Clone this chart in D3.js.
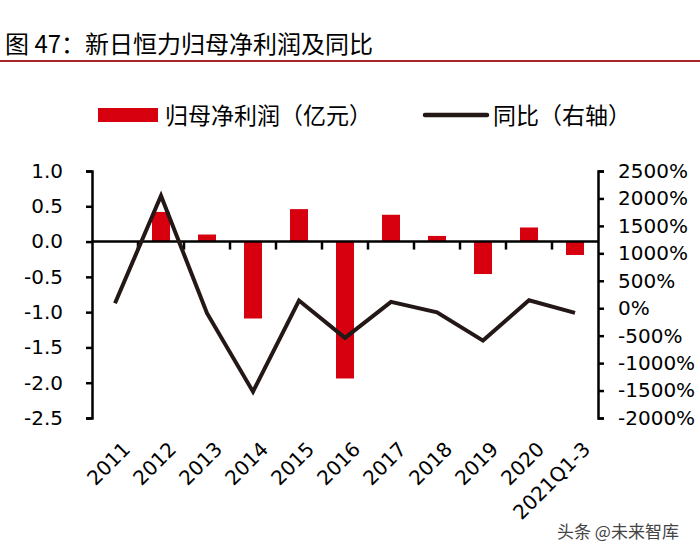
<!DOCTYPE html>
<html><head><meta charset="utf-8">
<script src="https://cdn.jsdelivr.net/npm/d3@7/dist/d3.min.js"></script>
<style>
body{margin:0;background:#fff;}
svg{display:block;}
</style></head>
<body>
<svg id="c" width="700" height="554"></svg>
<script>
const categories = ["2011","2012","2013","2014","2015","2016","2017","2018","2019","2020","2021Q1-3"];
const profit = [0, 0.42, 0.10, -1.09, 0.46, -1.94, 0.38, 0.08, -0.46, 0.20, -0.19];
const yoy = [90, 2050, -90, -1520, 140, -540, 115, -75, -590, 145, -85];
const leftTicks = [1.0, 0.5, 0.0, -0.5, -1.0, -1.5, -2.0, -2.5];
const rightTicks = [2500, 2000, 1500, 1000, 500, 0, -500, -1000, -1500, -2000];
const title = "图 47：新日恒力归母净利润及同比";
const legendLabels = ["归母净利润（亿元）", "同比（右轴）"];
const watermark = "头条 @未来智库";

(function(){
const svg = d3.select("#c");
const cjk = "'Noto Sans CJK SC', 'Noto Sans', sans-serif";
const num = "'DejaVu Sans', 'Liberation Sans', sans-serif";
const RED = "#d7000f", LINE = "#231815";

const pL = 92, pR = 598, pT = 171, pB = 418;
const x = d3.scaleBand().domain(categories).range([pL, pR]);
const yL = d3.scaleLinear().domain([-2.5, 1.0]).range([pB, pT]);
const yR = d3.scaleLinear().domain([-2000, 2500]).range([pB, pT]);

// title
svg.append("text").attr("x", 5).attr("y", 42).attr("dominant-baseline", "central")
  .attr("font-family", cjk).attr("font-size", 24).attr("fill", "#000").text(title);
svg.append("line").attr("x1", 0).attr("x2", 700).attr("y1", 61).attr("y2", 61)
  .attr("stroke", "#a8262a").attr("stroke-width", 2);

// legend
svg.append("rect").attr("x", 98).attr("y", 108).attr("width", 60).attr("height", 14).attr("fill", RED);
svg.append("text").attr("x", 165).attr("y", 114).attr("dominant-baseline", "central")
  .attr("font-family", cjk).attr("font-size", 23).attr("fill", "#000").text(legendLabels[0]);
svg.append("line").attr("x1", 425).attr("x2", 487).attr("y1", 115).attr("y2", 115)
  .attr("stroke", LINE).attr("stroke-width", 4.5).attr("stroke-linecap", "round");
svg.append("text").attr("x", 493).attr("y", 114).attr("dominant-baseline", "central")
  .attr("font-family", cjk).attr("font-size", 23).attr("fill", "#000").text(legendLabels[1]);

// bars
const bw = 18;
svg.append("g").selectAll("rect").data(categories).join("rect")
  .attr("x", d => x(d) + x.bandwidth()/2 - bw/2)
  .attr("width", bw)
  .attr("y", (d,i) => yL(Math.max(0, profit[i])))
  .attr("height", (d,i) => Math.abs(yL(profit[i]) - yL(0)))
  .attr("fill", RED);

// left axis
const gL = svg.append("g").attr("transform", `translate(${pL},0)`)
  .call(d3.axisLeft(yL).tickValues(leftTicks).tickFormat(d => d3.format(".1f")(d).replace("−","-")).tickSize(6).tickPadding(23));
gL.select(".domain").attr("stroke", "#000").attr("stroke-width", 2.5);
gL.selectAll(".tick line").attr("stroke", "#000").attr("stroke-width", 2.5);
gL.selectAll("text").attr("font-family", num).attr("font-size", 20).attr("fill", "#000");

// right axis
const gR = svg.append("g").attr("transform", `translate(${pR},0)`)
  .call(d3.axisRight(yR).tickValues(rightTicks).tickFormat(d => d + "%").tickSize(6).tickPadding(14));
gR.select(".domain").attr("stroke", "#000").attr("stroke-width", 2.5);
gR.selectAll(".tick line").attr("stroke", "#000").attr("stroke-width", 2.5);
gR.selectAll("text").attr("font-family", num).attr("font-size", 20).attr("fill", "#000");

// x axis at zero
const gX = svg.append("g").attr("transform", `translate(0,${yL(0)})`);
gX.append("line").attr("x1", pL).attr("x2", pR).attr("y1", 0).attr("y2", 0)
  .attr("stroke", "#000").attr("stroke-width", 2.5);
gX.selectAll("line.tk").data(categories.slice(1)).join("line").attr("class", "tk")
  .attr("x1", d => x(d)).attr("x2", d => x(d)).attr("y1", 0).attr("y2", 8)
  .attr("stroke", "#000").attr("stroke-width", 2.5);

// x labels
svg.append("g").selectAll("text").data(categories).join("text")
  .attr("transform", d => `translate(${x(d) + x.bandwidth()/2 + 6},${440}) rotate(-45)`)
  .attr("text-anchor", "end").attr("dy", "0.75em")
  .attr("font-family", num).attr("font-size", 20).attr("fill", "#000").text(d => d);

// line
const line = d3.line().x((d,i) => x(categories[i]) + x.bandwidth()/2).y(d => yR(d));
svg.append("path").datum(yoy).attr("d", line).attr("fill", "none")
  .attr("stroke", LINE).attr("stroke-width", 4).attr("stroke-linejoin", "miter");

// watermark
svg.append("text").attr("x", 557).attr("y", 530).attr("dominant-baseline", "central")
  .attr("font-family", cjk).attr("font-size", 17).attr("fill", "#444").text(watermark);
})();
</script>
</body></html>
